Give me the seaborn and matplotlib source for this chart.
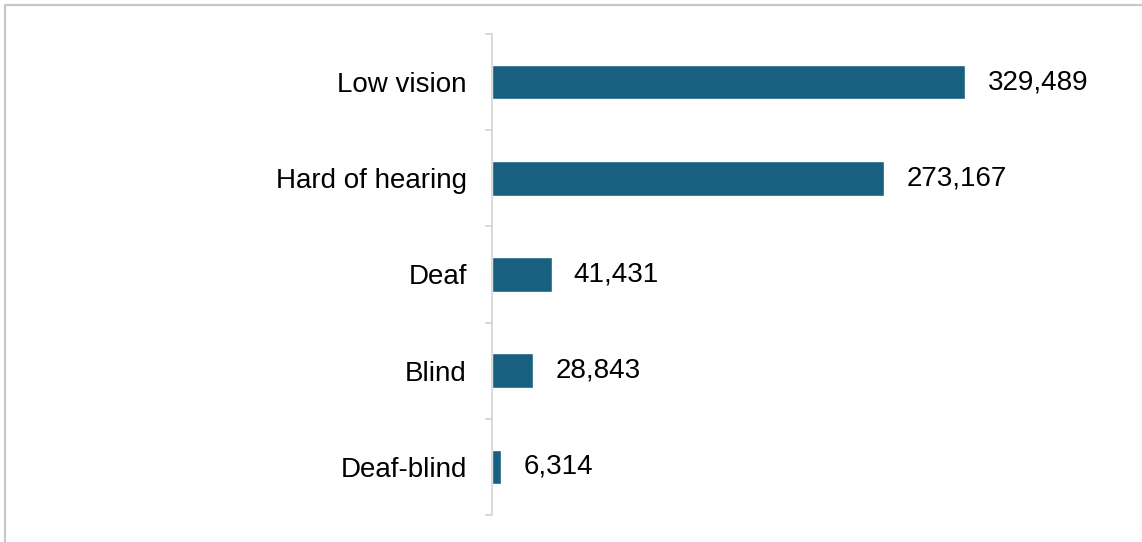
import matplotlib
matplotlib.use("Agg")
import matplotlib.pyplot as plt
import seaborn as sns
import pandas as pd
from matplotlib.lines import Line2D

categories = ["Low vision", "Hard of hearing", "Deaf", "Blind", "Deaf-blind"]
values = [329489, 273167, 41431, 28843, 6314]

sns.set_style("white")
plt.rcParams['font.family'] = ['Liberation Sans', 'DejaVu Sans']
plt.rcParams['text.color'] = 'black'
plt.rcParams['ytick.labelcolor'] = 'black'

df = pd.DataFrame({"category": categories, "value": values})

fig = plt.figure(figsize=(11.42, 5.42), dpi=100)
ax = fig.add_axes([0.4308, 0.0498, 0.541, 0.8875])

sns.barplot(data=df, y="category", x="value", color="#17607f", width=0.36,
            saturation=1, ax=ax, orient="h")

ax.set_xlim(0, 430000)
ax.set_ylim(4.5, -0.5)
ax.set_xlabel("")
ax.set_ylabel("")
ax.set_xticks([])
ax.set_yticks([i + 0.5 for i in range(-1, len(categories))], minor=False)
ax.set_yticklabels([])
ax.set_yticks(range(len(categories)), minor=True)
ax.set_yticklabels(categories, minor=True, fontsize=20, color="black")
ax.tick_params(axis="y", which="major", length=5, width=1.1, color="#d0d0d0", left=True)
ax.tick_params(axis="y", which="minor", length=0, pad=18)

for s in ["top", "right", "bottom"]:
    ax.spines[s].set_visible(False)
ax.spines["left"].set_color("#d0d0d0")
ax.spines["left"].set_linewidth(1.1)

for c in ax.containers:
    ax.bar_label(c, labels=[f"{v:,}" for v in values], padding=16, fontsize=20, color="black")

fig.add_artist(Line2D([4.5/1142, 4.5/1142], [0, 1 - 4.5/542], transform=fig.transFigure,
                      color="#c8c8c8", linewidth=1.6))
fig.add_artist(Line2D([4.5/1142, 1], [1 - 4.5/542, 1 - 4.5/542], transform=fig.transFigure,
                      color="#c8c8c8", linewidth=1.6))

fig.savefig("out.png", dpi=100, facecolor="white")
